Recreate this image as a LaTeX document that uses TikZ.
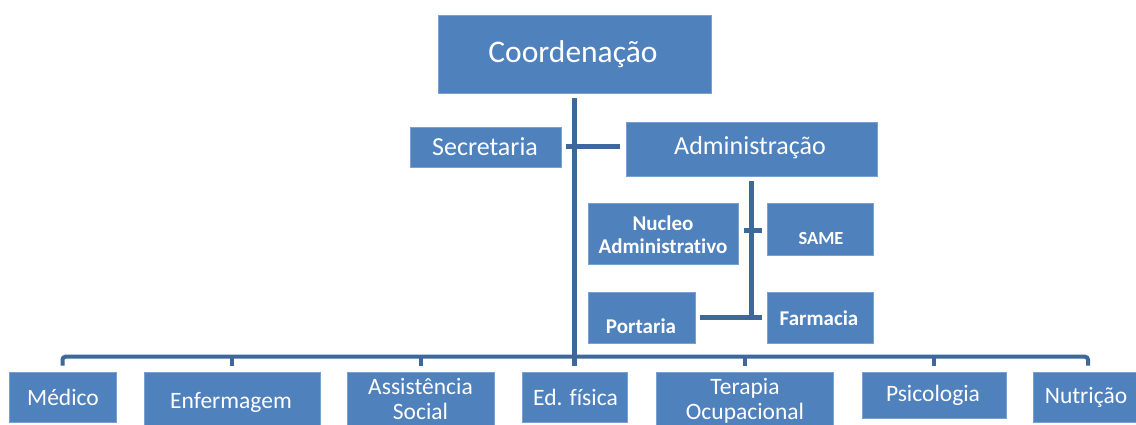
\documentclass[tikz,border=0pt]{standalone}
\usepackage{fontspec}
\setmainfont{Carlito}[Ligatures=NoCommon]
\usetikzlibrary{calc}
\definecolor{boxblue}{RGB}{79,129,189}
\definecolor{boxedge}{RGB}{120,160,208}
\definecolor{lineblue}{RGB}{61,104,153}
\begin{document}
\begin{tikzpicture}[x=1pt,y=-1pt,
  box/.style={fill=boxblue, draw=boxedge, line width=0.6pt, inner sep=0pt, anchor=center},
  lbl/.style={text=white, inner sep=0pt, align=center, anchor=center},
  conn/.style={draw=lineblue, line width=5pt},
  bus/.style={draw=lineblue, line width=4pt},
  ftop/.style={font=\fontsize{31.5}{36}\selectfont},
  fmid/.style={font=\fontsize{26}{30}\selectfont},
  fsub/.style={font=\fontsize{21}{23}\selectfont\bfseries},
  fbot/.style={font=\fontsize{23.5}{25}\selectfont},
]
\useasboundingbox (0,0) rectangle (1136,425);

% boxes
\node[box, minimum width=273pt, minimum height=78pt] (coord) at (574.5,54) {};
\node[box, minimum width=151pt, minimum height=40pt] (sec) at (485.5,147) {};
\node[box, minimum width=251pt, minimum height=54pt] (adm) at (751.5,149) {};
\node[box, minimum width=150pt, minimum height=61pt] (nuc) at (663,233.5) {};
\node[box, minimum width=106pt, minimum height=52pt] (same) at (820,229) {};
\node[box, minimum width=107pt, minimum height=51pt] (port) at (641.5,317.5) {};
\node[box, minimum width=106pt, minimum height=51pt] (farm) at (820,317.5) {};

\node[box, minimum width=107pt, minimum height=50pt] (med) at (62.5,397) {};
\node[box, minimum width=176pt, minimum height=54pt] (enf) at (232,399) {};
\node[box, minimum width=147pt, minimum height=54pt] (ass) at (420.5,399) {};
\node[box, minimum width=105pt, minimum height=50pt] (edf) at (574.5,397) {};
\node[box, minimum width=177pt, minimum height=54pt] (ter) at (744.5,399) {};
\node[box, minimum width=144pt, minimum height=46pt] (psi) at (934,395) {};
\node[box, minimum width=104pt, minimum height=50pt] (nut) at (1085,397) {};

% texts
\node[lbl, ftop] (coordT) at (573,54) {Coordenação};
\node[lbl, fmid] (secT) at (485,147) {Secretaria};
\node[lbl, fmid] (admT) at (750,148) {Administração};
\node[lbl, fsub] (nucT) at (663,234.5) {Nucleo\\Administrativo};
\node[lbl, fsub, font=\fontsize{18.5}{21}\selectfont\bfseries] (sameT) at (821,238) {SAME};
\node[lbl, fsub] (portT) at (641,326) {Portaria};
\node[lbl, fsub] (farmT) at (819,318) {Farmacia};

\node[lbl, fbot] (medT) at (63,397) {Médico};
\node[lbl, fbot] (enfT) at (231,402) {Enfermagem};
\node[lbl, fbot] (assT) at (420.5,399.5) {Assistência\\Social};
\node[lbl, fbot] (edfT) at (575.5,397) {Ed. física};
\node[lbl, fbot] (terT) at (745,400.5) {Terapia\\Ocupacional};
\node[lbl, fbot] (psiT) at (933,395) {Psicologia};
\node[lbl, fbot] (nutT) at (1086,397) {Nutrição};

% connectors
\coordinate (mtop) at ($(coord.south)+(0,5)$);
\coordinate (mbot) at ($(edf.north)+(0,-6)$);
\draw[conn] (mtop) -- (mbot);
\draw[conn] ($(sec.east)+(5,0)$) -- ($(adm.west |- sec.east)+(-6,0)$);
\draw[conn] ($(adm.south)+(0,5)$) -- ($(adm.south |- port.east)$);
\draw[conn] ($(same.west)+(-23,1)$) -- ($(same.west)+(-5,1)$);
\draw[conn] ($(port.east)+(5,0)$) -- ($(farm.west)+(-5,0)$);

\draw[bus, rounded corners=3pt] ($(med.north)+(0,-6)$) -- ($(med.north)+(0,-15)$)
   -- ($(nut.north)+(3,-15)$) -- ($(nut.north)+(3,-6)$);
\foreach \n in {enf,ass,ter,psi}{
  \draw[bus] ($(\n.north)+(0,-6)$) -- ($(\n.north)+(0,-17)$);
}
\end{tikzpicture}
\end{document}
